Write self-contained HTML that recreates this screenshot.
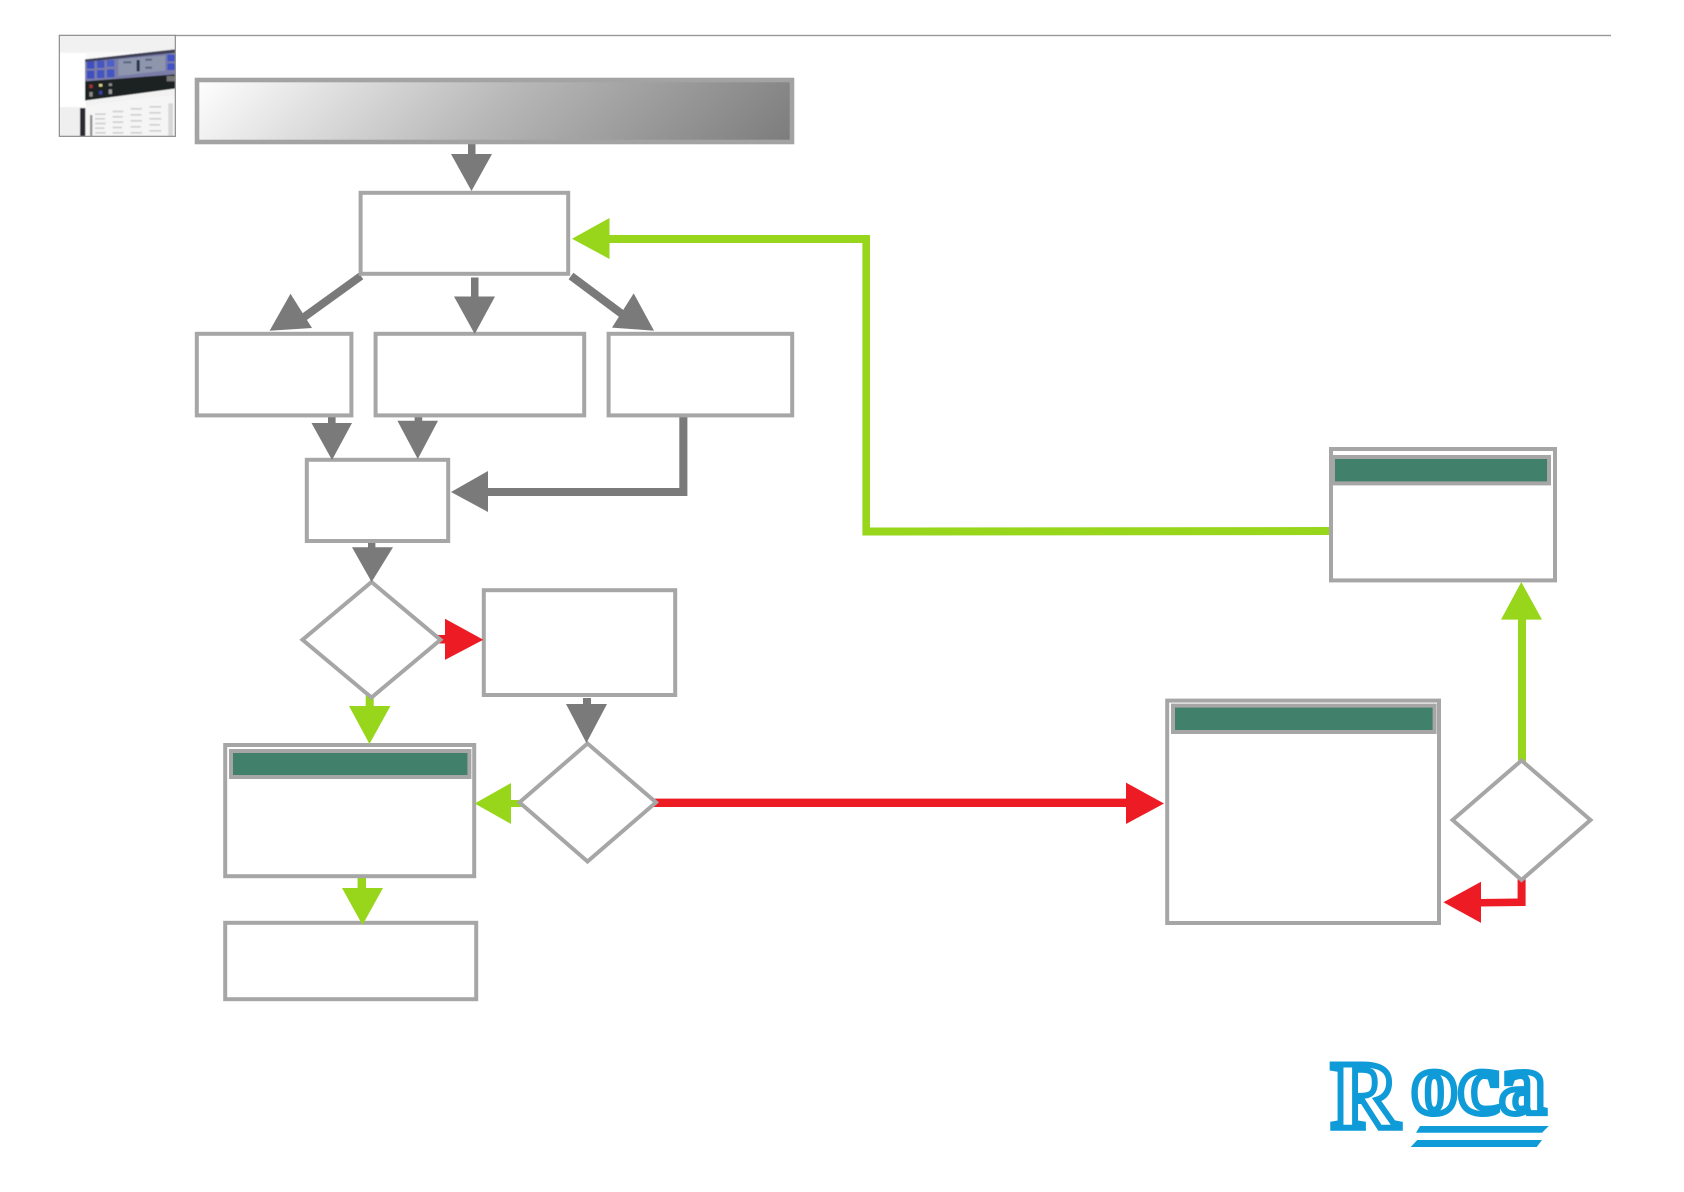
<!DOCTYPE html>
<html lang="en">
<head>
<meta charset="utf-8">
<title>Roca flow diagram</title>
<style>
html,body{margin:0;padding:0;background:#fff;}
svg{display:block;}
.b{fill:#fff;stroke:#a6a6a6;stroke-width:4;stroke-linejoin:miter;}
.g{fill:#7a7a7a;}
.l{fill:#97d61b;}
.r{fill:#ed1c24;}
.hdr{fill:#41806b;stroke:#a6a6a6;stroke-width:4;}
.logo{font-family:"Liberation Serif",serif;font-weight:700;fill:#fff;stroke:#0f9bd8;stroke-width:6;stroke-linejoin:miter;}
</style>
</head>
<body>
<svg width="1684" height="1192" viewBox="0 0 1684 1192" xmlns="http://www.w3.org/2000/svg">
<defs>
<linearGradient id="tg" gradientUnits="userSpaceOnUse" x1="197" y1="80" x2="525.5" y2="408.5">
<stop offset="0" stop-color="#ffffff"/>
<stop offset=".5" stop-color="#b8b7b7"/>
<stop offset="1" stop-color="#7c7c7c"/>
</linearGradient>
<filter id="bl" x="-5%" y="-5%" width="110%" height="110%"><feGaussianBlur stdDeviation="1.6"/></filter>
<clipPath id="tin"><rect x="58" y="46" width="348" height="303"/></clipPath>
</defs>
<rect width="1684" height="1192" fill="#fff"/>

<!-- top rule -->
<rect x="175" y="34.8" width="1436" height="1.4" fill="#999"/>

<!-- thumbnail, coordinates in 3x local space -->
<g transform="translate(40,20) scale(.33333)">
<g clip-path="url(#tin)"><g filter="url(#bl)">
<rect x="58" y="46" width="348" height="303" fill="#f8f8f8"/>
<rect x="58" y="46" width="348" height="50" fill="#f1f1f1"/>
<rect x="58" y="100" width="80" height="160" fill="#ffffff"/>
<rect x="58" y="262" width="62" height="87" fill="#efefef"/>
<polygon points="135,118 406,88 406,168 135,186" fill="#7a7da8"/>
<polygon points="135,184 406,163 406,206 135,242" fill="#1f2024"/>
<polygon points="135,118 406,88 406,98 135,126" fill="#3e3f55"/>
<rect x="141" y="124" width="22" height="22" fill="#3f4fc0"/>
<rect x="171" y="122" width="22" height="22" fill="#4556c4"/>
<rect x="201" y="120" width="22" height="20" fill="#4e5ec8"/>
<rect x="141" y="152" width="22" height="24" fill="#3f4fc0"/>
<rect x="171" y="150" width="22" height="24" fill="#4354c2"/>
<rect x="201" y="148" width="22" height="24" fill="#4354c2"/>
<polygon points="235,118 376,106 376,152 235,168" fill="#8d96ad"/>
<rect x="290" y="120" width="9" height="34" fill="#27304a"/>
<rect x="250" y="124" width="24" height="6" fill="#5a637c"/>
<rect x="316" y="116" width="20" height="6" fill="#5a637c"/>
<rect x="316" y="140" width="20" height="6" fill="#5a637c"/>
<rect x="382" y="104" width="24" height="20" fill="#4253c6"/>
<rect x="382" y="130" width="24" height="20" fill="#4253c6"/>
<rect x="148" y="194" width="10" height="10" fill="#a5333b"/>
<rect x="177" y="192" width="10" height="8" fill="#d9d68a"/>
<rect x="206" y="190" width="10" height="8" fill="#8a8a8a"/>
<rect x="148" y="216" width="10" height="14" fill="#8a8a8a"/>
<rect x="177" y="212" width="10" height="12" fill="#3540a0"/>
<rect x="206" y="208" width="10" height="14" fill="#999"/>
<rect x="380" y="168" width="26" height="16" fill="#777"/>
<polygon points="135,242 406,206 406,226 140,256" fill="#f2f2f2"/>
<polygon points="140,256 406,226 406,349 140,349" fill="#f5f5f5"/>
<rect x="120" y="264" width="16" height="85" fill="#2b2c30"/>
<rect x="150" y="285" width="7" height="64" fill="#8f8f8f"/>
<g fill="#cfcfcf">
<rect x="165" y="280" width="32" height="5"/><rect x="165" y="294" width="30" height="5"/><rect x="165" y="308" width="32" height="5"/><rect x="165" y="322" width="28" height="5"/><rect x="165" y="336" width="32" height="5"/>
<rect x="218" y="272" width="32" height="5"/><rect x="218" y="288" width="30" height="5"/><rect x="218" y="304" width="32" height="5"/><rect x="218" y="320" width="28" height="5"/><rect x="218" y="336" width="32" height="5"/>
<rect x="272" y="264" width="34" height="5"/><rect x="272" y="282" width="32" height="5"/><rect x="272" y="300" width="34" height="5"/><rect x="272" y="318" width="30" height="5"/><rect x="272" y="336" width="34" height="5"/>
<rect x="328" y="258" width="36" height="5"/><rect x="328" y="276" width="34" height="5"/><rect x="328" y="294" width="36" height="5"/><rect x="328" y="312" width="32" height="5"/><rect x="328" y="330" width="36" height="5"/>
<rect x="385" y="250" width="14" height="99" opacity=".8"/>
</g>
</g></g>
<rect x="58" y="46" width="348" height="303" fill="none" stroke="#8c8c8c" stroke-width="3.6"/>
</g>

<!-- shafts -->
<g>
<rect class="g" x="468" y="143" width="7.5" height="14"/>
<polygon class="g" points="363.3,279.2 358.7,272.8 297.7,316.8 302.3,323.2"/>
<rect class="g" x="471" y="277.5" width="7.5" height="22"/>
<polygon class="g" points="568.6,279.2 573.4,272.8 632.4,316.8 627.6,323.2"/>
<rect class="g" x="328" y="417" width="7.6" height="8"/>
<rect class="g" x="414.6" y="417" width="7.6" height="6"/>
<polygon class="g" points="679.3,417 687.4,417 687.4,496 486,496 486,488 679.3,488"/>
<rect class="g" x="368" y="542" width="7.4" height="8"/>
<rect class="g" x="583" y="698" width="8" height="8"/>
<polygon class="l" points="607,235 870,235 870,527.5 1331,527 1331,535 862.4,535.5 862.4,243 607,243"/>
<rect class="l" x="365.7" y="694" width="8" height="14"/>
<rect class="l" x="508" y="800" width="16" height="7"/>
<rect class="l" x="357.6" y="877" width="8.4" height="13"/>
<rect class="l" x="1518" y="617" width="8" height="146"/>
<rect class="r" x="436" y="635" width="11" height="8.5"/>
<rect class="r" x="652" y="798.6" width="476" height="8.4"/>
<polygon class="r" points="1517.6,877 1525.6,877 1525.6,906 1479,906.5 1479,899 1517.6,898.5"/>
</g>

<!-- title -->
<rect x="197" y="80" width="595" height="62" fill="url(#tg)" stroke="#a3a3a3" stroke-width="4.6"/>

<!-- boxes -->
<rect class="b" x="360.6" y="192.8" width="207.6" height="81"/>
<rect class="b" x="196.8" y="333.8" width="154.6" height="81.6"/>
<rect class="b" x="375.6" y="333.8" width="208.6" height="81.6"/>
<rect class="b" x="608.6" y="333.8" width="183.6" height="81.6"/>
<rect class="b" x="306.8" y="459.8" width="141.4" height="81.2"/>
<rect class="b" x="483.8" y="590.2" width="191.4" height="104.8"/>
<rect class="b" x="225.2" y="745" width="249" height="131.2"/>
<rect class="hdr" x="231" y="751" width="238.4" height="26"/>
<rect class="b" x="225.2" y="922.8" width="251" height="76.4"/>
<rect class="b" x="1331" y="449" width="224" height="131.4"/>
<rect class="hdr" x="1333" y="457" width="216" height="26.4"/>
<rect class="b" x="1167.2" y="700.6" width="271.8" height="222.4"/>
<rect class="hdr" x="1173" y="705.6" width="261.6" height="26.4"/>

<!-- diamonds -->
<polygon class="b" points="371.5,582 440.5,639.8 371.5,697.5 302.5,639.8"/>
<polygon class="b" points="587.5,743.5 656,802.4 587.5,861.5 519.5,802.4"/>
<polygon class="b" points="1521.5,760.5 1590.5,820 1521.5,880 1452.6,820"/>

<!-- arrow heads -->
<polygon class="g" points="451,154 492,154 471.5,191"/>
<polygon class="g" points="290.5,293.8 312,328 269.6,330.7"/>
<polygon class="g" points="454,296.5 495,296.5 474.7,334"/>
<polygon class="g" points="633.7,293.4 654,330.7 612,327.6"/>
<polygon class="g" points="311.5,423 352,423 332,460"/>
<polygon class="g" points="397.4,420.7 438,420.7 417.8,459"/>
<polygon class="g" points="488,471 488,512 451,492"/>
<polygon class="g" points="352,547.3 393,547.3 371.6,582"/>
<polygon class="g" points="566,704 607,704 586.4,743"/>
<polygon class="l" points="609.5,218 609.5,259 572,238.7"/>
<polygon class="l" points="349,706 390.4,706 369.5,744"/>
<polygon class="l" points="511,783 511,824 474.7,803.5"/>
<polygon class="l" points="342,888 383,888 362.5,925"/>
<polygon class="l" points="1501,619.6 1542,619.6 1521.3,582"/>
<polygon class="r" points="445,618.8 445,659.9 483.3,639.7"/>
<polygon class="r" points="1126,782.6 1126,824 1164,803.5"/>
<polygon class="r" points="1481,881.8 1481,922.9 1443.4,902.3"/>

<!-- logo -->
<text class="logo" x="1331" y="1128" font-size="96" textLength="68" lengthAdjust="spacingAndGlyphs">R</text>
<text class="logo" x="1411" y="1113" font-size="88" textLength="135" lengthAdjust="spacingAndGlyphs">oca</text>
<polygon fill="#0f9bd8" points="1420,1126 1548.7,1126 1542,1132.7 1416,1132.7"/>
<polygon fill="#0f9bd8" points="1417.3,1140 1542,1140 1536.7,1147 1410.7,1147"/>
</svg>
</body>
</html>
